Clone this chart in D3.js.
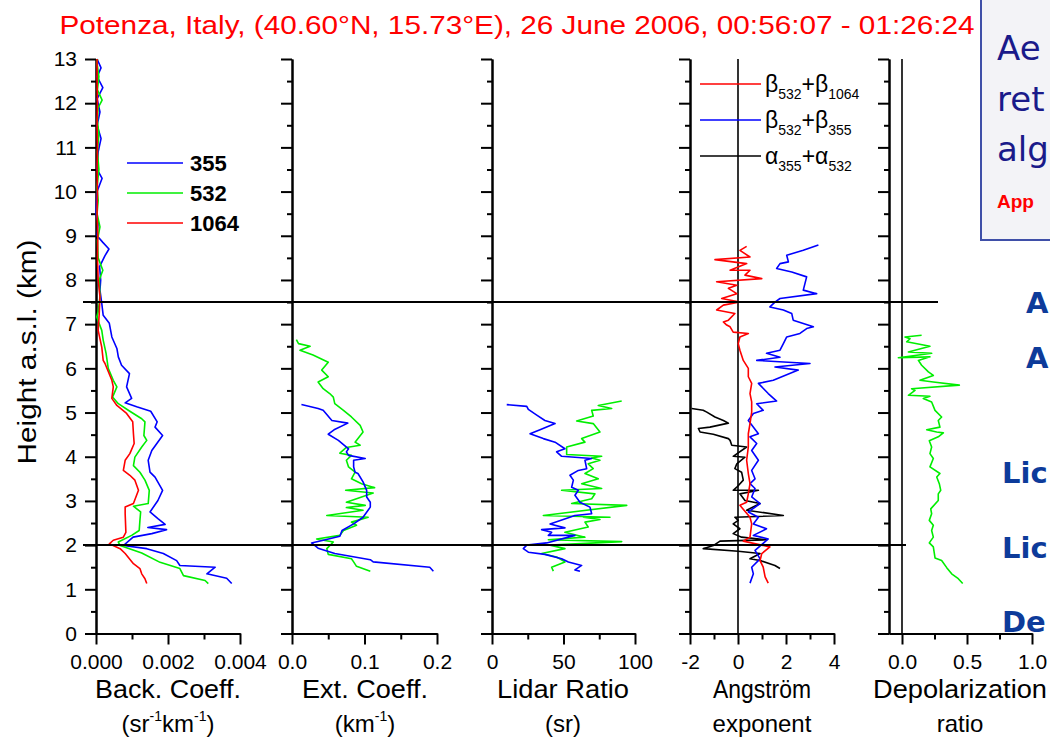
<!DOCTYPE html>
<html><head><meta charset="utf-8">
<script src="https://cdn.jsdelivr.net/npm/d3@7"></script>
<style>body{margin:0;background:#fff}svg{display:block}</style>
</head><body><svg id="c" width="1050" height="740"></svg>
<script>
// ---------- DATA: [altitude km, value] ----------
const back355 = [[1.13,0.00377],[1.25,0.00363],[1.35,0.00308],[1.50,0.00331],[1.54,0.00233],[1.65,0.00224],[1.81,0.00187],[1.92,0.00141],[1.99,0.00076],[2.18,0.00103],[2.26,0.00155],[2.35,0.00196],[2.40,0.00144],[2.47,0.00192],[2.60,0.00172],[2.75,0.00150],[3.01,0.00172],[3.24,0.00185],[3.54,0.00164],[3.65,0.00150],[3.92,0.00145],[4.14,0.00155],[4.48,0.00185],[4.67,0.00164],[4.79,0.00170],[5.03,0.00152],[5.13,0.00113],[5.22,0.00081],[5.32,0.00099],[5.58,0.00085],[5.88,0.00093],[6.07,0.00071],[6.26,0.00062],[6.45,0.00058],[6.71,0.00044],[7.02,0.00037],[7.20,0.00020],[7.47,0.00016],[7.77,0.00011],[8.00,0.00013],[8.30,0.00010],[8.55,0.00025],[8.70,0.00036],[8.85,0.00019],[9.00,0.00003],[9.30,0.00006],[9.50,0.00000],[10.0,0.00003],[10.3,0.00017],[10.5,0.00003],[10.9,0.00006],[11.2,0.00014],[11.5,0.00003],[11.8,0.00011],[12.1,0.00003],[12.35,0.00019],[12.6,0.00003],[12.8,0.00014],[13.0,0.00003]];
const back532 = [[1.13,0.00312],[1.20,0.00303],[1.31,0.00243],[1.47,0.00233],[1.61,0.00178],[1.82,0.00127],[1.99,0.00067],[2.07,0.00062],[2.22,0.00099],[2.33,0.00120],[2.56,0.00122],[2.75,0.00124],[2.88,0.00104],[2.94,0.00145],[3.24,0.00148],[3.47,0.00136],[3.65,0.00122],[3.80,0.00104],[3.99,0.00108],[4.22,0.00127],[4.37,0.00141],[4.48,0.00133],[4.79,0.00136],[4.86,0.00127],[5.03,0.00094],[5.20,0.00062],[5.35,0.00046],[5.58,0.00058],[5.73,0.00048],[6.00,0.00034],[6.34,0.00028],[6.64,0.00020],[6.86,0.00016],[7.16,0.00002],[7.28,0.00006],[7.62,0.00011],[8.0,0.00009],[8.22,0.00019],[8.5,0.00006],[8.9,0.00004],[9.2,0.00011],[9.5,0.00003],[9.8,0.00006],[10.1,0.00003],[10.5,0.00008],[10.9,0.00004],[11.3,0.00008],[11.6,0.00004],[11.9,0.00006],[12.07,0.00017],[12.3,0.00004],[12.6,0.00008],[12.9,0.00003],[13.0,0.00004]];
const back1064 = [[1.13,0.00141],[1.24,0.00136],[1.35,0.00127],[1.47,0.00122],[1.58,0.00104],[1.81,0.00081],[1.92,0.00067],[2.03,0.00037],[2.11,0.00048],[2.18,0.00076],[2.29,0.00083],[2.71,0.00081],[2.86,0.00081],[2.94,0.00104],[3.24,0.00118],[3.47,0.00108],[3.58,0.00094],[3.69,0.00076],[3.92,0.00081],[4.07,0.00094],[4.30,0.00106],[4.52,0.00104],[4.79,0.00102],[4.98,0.00085],[5.16,0.00058],[5.32,0.00044],[5.58,0.00048],[5.73,0.00044],[6.11,0.00025],[6.18,0.00020],[6.48,0.00016],[6.86,0.00006],[7.24,0.00009],[7.62,0.00011],[8.0,0.00006],[8.5,0.00004],[9.0,0.00005],[9.5,0.00003],[10.0,0.00004],[10.5,0.00003],[11.0,0.00004],[11.5,0.00003],[12.0,0.00004],[12.5,0.00003],[13.0,0.00003]];

const ext532 = [[1.41,0.108],[1.52,0.089],[1.62,0.085],[1.69,0.082],[1.79,0.050],[1.92,0.048],[2.07,0.057],[2.14,0.034],[2.22,0.066],[2.33,0.071],[2.45,0.089],[2.52,0.082],[2.63,0.105],[2.67,0.048],[2.79,0.098],[2.85,0.075],[2.90,0.101],[2.97,0.075],[3.18,0.112],[3.24,0.074],[3.30,0.114],[3.39,0.096],[3.50,0.082],[3.65,0.087],[3.77,0.078],[3.92,0.075],[4.03,0.082],[4.08,0.066],[4.21,0.075],[4.26,0.094],[4.33,0.087],[4.56,0.098],[4.71,0.094],[4.90,0.082],[5.05,0.071],[5.20,0.059],[5.35,0.057],[5.43,0.052],[5.54,0.043],[5.69,0.036],[5.81,0.050],[5.96,0.041],[6.14,0.050],[6.30,0.029],[6.41,0.011],[6.50,0.025],[6.56,0.009],[6.65,0.006]];
const ext355 = [[1.41,0.195],[1.50,0.190],[1.62,0.112],[1.67,0.108],[1.81,0.059],[1.93,0.036],[2.05,0.027],[2.12,0.046],[2.20,0.066],[2.33,0.069],[2.48,0.085],[2.63,0.098],[2.86,0.108],[2.97,0.108],[3.09,0.103],[3.24,0.103],[3.43,0.098],[3.62,0.091],[3.65,0.087],[3.77,0.085],[3.92,0.085],[3.96,0.101],[4.03,0.078],[4.11,0.075],[4.18,0.078],[4.37,0.064],[4.51,0.050],[4.61,0.058],[4.76,0.077],[4.82,0.055],[5.05,0.043],[5.09,0.036],[5.18,0.013]];

const lr355 = [[1.41,61.5],[1.44,58],[1.54,62.7],[1.62,53.4],[1.69,48.7],[1.79,37],[1.84,25.4],[1.92,21.9],[2.00,24.3],[2.05,38.2],[2.22,58],[2.22,39.4],[2.29,41.7],[2.35,34.7],[2.39,51],[2.48,40.6],[2.67,58],[2.71,69.7],[2.86,68.5],[2.97,61.5],[3.13,58],[3.24,60.4],[3.31,55.7],[3.47,56.9],[3.58,54.5],[3.69,60.4],[3.73,66.2],[3.92,65],[3.96,69.7],[4.01,48.7],[4.11,45.2],[4.18,51],[4.33,44.1],[4.41,35.9],[4.52,26.6],[4.61,33.6],[4.75,44.1],[4.82,37],[4.94,31.3],[5.07,25.4],[5.14,24.3],[5.18,10.3]];
const lr532 = [[1.41,42.9],[1.50,41.7],[1.62,51],[1.73,45.2],[1.81,34.7],[1.92,51],[2.00,40.6],[2.08,90.7],[2.12,39.4],[2.18,65],[2.29,51],[2.41,67.3],[2.52,65],[2.58,75.5],[2.63,63.9],[2.63,82.5],[2.67,35.9],[2.90,94.2],[2.94,55.7],[3.05,69.7],[3.16,72],[3.24,48.7],[3.28,76.7],[3.39,62.7],[3.50,74.3],[3.62,65],[3.73,70.8],[3.84,67.3],[3.92,75.5],[3.97,69.7],[4.01,76.7],[4.05,52.2],[4.22,52.2],[4.33,65],[4.41,62.7],[4.56,75.5],[4.75,70.8],[4.81,59.2],[4.92,70.8],[5.05,69.7],[5.09,83.7],[5.16,74.3],[5.26,90.7]];

const ae532_1064 = [[1.14,1.26],[1.28,1.13],[1.50,1.05],[1.65,0.92],[1.81,0.99],[1.96,1.33],[2.09,0.22],[2.18,0.50],[2.48,0.57],[2.63,0.50],[2.90,0.08],[2.97,0.36],[3.16,0.43],[3.39,0.50],[3.62,0.43],[3.92,0.36],[4.22,0.43],[4.52,0.43],[4.75,0.50],[5.01,0.57],[5.24,0.57],[5.43,0.50],[5.66,0.57],[5.81,0.43],[6.00,0.43],[6.18,0.22],[6.41,0.08],[6.56,0.01],[6.71,0.08],[6.79,0.43],[6.82,-0.20],[6.94,-0.33],[6.98,-0.47],[7.05,-0.61],[7.09,-0.40],[7.24,-0.13],[7.32,-0.89],[7.43,-0.61],[7.50,0.08],[7.58,-0.68],[7.69,-0.05],[7.81,-0.40],[7.88,-0.05],[7.96,-0.89],[8.03,0.99],[8.11,0.29],[8.22,0.50],[8.22,-0.33],[8.37,0.36],[8.46,-0.96],[8.52,0.50],[8.67,0.08],[8.76,0.36]];
const ae532_355 = [[1.14,0.50],[1.35,0.64],[1.50,0.57],[1.69,0.92],[1.88,0.71],[2.14,1.26],[2.22,0.64],[2.37,1.19],[2.48,0.64],[2.63,0.85],[2.75,0.43],[2.94,0.92],[3.09,0.57],[3.28,0.71],[3.39,0.50],[3.50,0.71],[3.69,0.57],[3.92,0.85],[4.14,0.57],[4.30,0.78],[4.45,0.50],[4.52,0.85],[4.82,0.43],[4.98,0.64],[5.05,1.05],[5.20,0.78],[5.26,1.61],[5.43,1.26],[5.66,0.85],[5.73,1.47],[5.96,2.51],[6.03,1.54],[6.11,3.00],[6.18,0.78],[6.25,1.75],[6.34,1.19],[6.41,1.75],[6.56,1.89],[6.71,2.03],[6.79,2.58],[6.90,2.86],[6.94,3.14],[7.09,2.30],[7.24,2.24],[7.32,1.89],[7.39,1.33],[7.50,1.54],[7.58,1.75],[7.69,3.28],[7.77,2.72],[8.07,2.86],[8.18,2.24],[8.26,1.61],[8.37,1.75],[8.41,2.10],[8.56,2.03],[8.67,2.72],[8.79,3.35]];
const ae355_532 = [[1.47,1.75],[1.54,1.54],[1.65,0.92],[1.69,0.50],[1.81,0.92],[1.86,0.01],[1.92,-1.45],[1.99,-1.03],[2.09,-0.75],[2.12,1.19],[2.18,0.15],[2.26,-0.20],[2.37,0.08],[2.48,-0.20],[2.56,0.01],[2.63,-0.13],[2.67,1.89],[2.79,0.36],[2.94,0.92],[3.01,0.29],[3.16,0.08],[3.24,0.85],[3.24,-0.20],[3.31,-0.05],[3.47,0.22],[3.65,0.15],[3.73,-0.13],[3.84,-0.05],[3.99,0.29],[4.01,-0.20],[4.22,0.36],[4.26,-0.26],[4.37,-0.33],[4.41,-0.40],[4.51,-1.03],[4.56,-1.58],[4.64,-1.65],[4.67,-1.17],[4.76,-0.40],[4.82,-0.61],[4.90,-0.96],[5.01,-1.30],[5.05,-1.45],[5.09,-1.93]];

const depol532 = [[1.13,0.467],[1.24,0.433],[1.35,0.382],[1.49,0.344],[1.65,0.305],[1.71,0.254],[1.96,0.241],[2.05,0.210],[2.18,0.241],[2.33,0.228],[2.45,0.241],[2.56,0.210],[2.71,0.228],[2.82,0.221],[3.01,0.279],[3.16,0.279],[3.24,0.298],[3.39,0.287],[3.54,0.267],[3.62,0.292],[3.77,0.215],[3.96,0.241],[4.07,0.215],[4.22,0.228],[4.36,0.210],[4.45,0.279],[4.54,0.318],[4.56,0.267],[4.61,0.190],[4.67,0.292],[4.82,0.279],[4.90,0.305],[5.05,0.254],[5.24,0.228],[5.32,0.164],[5.37,0.215],[5.39,0.049],[5.50,0.100],[5.54,0.074],[5.62,0.441],[5.69,0.241],[5.73,0.138],[5.84,0.241],[5.92,0.203],[6.07,0.151],[6.18,0.126],[6.26,0.215],[6.24,-0.028],[6.34,0.228],[6.37,0.049],[6.50,0.215],[6.60,0.036],[6.67,0.062],[6.71,0.023],[6.75,0.151]];

const yTicks = [0,1,2,3,4,5,6,7,8,9,10,11,12,13];
const layerLines = [7.5, 2.0];
const legend1 = ["355","532","1064"];
const titleText = "Potenza, Italy, (40.60°N, 15.73°E), 26 June 2006, 00:56:07 - 01:26:24";
const xTitles1 = ["Back. Coeff.","Ext. Coeff.","Lidar Ratio","Angström","Depolarization"];

// ---------- DRAW ----------
const svg = d3.select("#c");
const FONT = "'Liberation Sans', Arial, sans-serif";
const y = d3.scaleLinear().domain([0,13]).range([633.5,59]);
const hy = f => (v => f(v).replace("\u2212","-"));

const panels = [
  {dom:[0,0.004], rng:[96,240], major:[0,0.002,0.004], minor:[0.001,0.003], fmt:hy(d3.format(".3f")),
   series:[[back355,"#0000ff"],[back532,"#00ee00"],[back1064,"#ff0000"]], t1w:146, t1x:168},
  {dom:[0,0.2], rng:[292,437], major:[0,0.1,0.2], minor:[0.05,0.15], fmt:hy(d3.format(".1f")),
   series:[[ext532,"#00ee00"],[ext355,"#0000ff"]], t1w:126, t1x:365},
  {dom:[0,100], rng:[492,635], major:[0,50,100], minor:[25,75], fmt:hy(d3.format("d")),
   series:[[lr532,"#00ee00"],[lr355,"#0000ff"]], t1w:132, t1x:563},
  {dom:[-2,4], rng:[690,834], major:[-2,0,2,4], minor:[-1,1,3], fmt:hy(d3.format("d")), zero:true,
   series:[[ae355_532,"#000000"],[ae532_355,"#0000ff"],[ae532_1064,"#ff0000"]], t1w:98, t1x:762},
  {dom:[-0.1,1.0], rng:[889,1032], major:[0,0.5,1.0], minor:[0.25,0.75], fmt:hy(d3.format(".1f")), zero:true,
   series:[[depol532,"#00ee00"]], t1w:174, t1x:960}
];

panels.forEach((p,i)=>{
  const x = d3.scaleLinear().domain(p.dom).range(p.rng);
  p.x = x;
  const gx = svg.append("g").attr("transform","translate(0,633.5)");
  gx.call(d3.axisBottom(x).tickValues(p.major).tickFormat(p.fmt).tickSize(11).tickSizeOuter(0).tickPadding(10));
  gx.append("g").call(d3.axisBottom(x).tickValues(p.minor).tickFormat("").tickSize(6).tickSizeOuter(0));
  const gy = svg.append("g").attr("transform",`translate(${p.rng[0]},0)`);
  gy.call(d3.axisLeft(y).tickValues(yTicks).tickFormat(i===0?d3.format("d"):"").tickSize(11).tickSizeOuter(0).tickPadding(8));
  gy.append("g").call(d3.axisLeft(y).tickValues(yTicks.slice(0,-1).map(v=>v+0.5)).tickFormat("").tickSize(5).tickSizeOuter(0));
  if(p.zero){
    svg.append("line").attr("x1",x(0)).attr("x2",x(0)).attr("y1",y(13)).attr("y2",y(0))
      .attr("stroke","#000").attr("stroke-width",1.6);
  }
});

svg.selectAll(".domain, .tick line").attr("stroke","#000").attr("stroke-width",2);
svg.selectAll(".tick text").attr("font-family",FONT).attr("font-size",21).attr("fill","#000");

panels.forEach(p=>{
  const line = d3.line().x(d=>p.x(d[1])).y(d=>y(d[0]));
  p.series.forEach(([data,col])=>{
    svg.append("path").datum(data).attr("d",line).attr("fill","none")
      .attr("stroke",col).attr("stroke-width",1.6).attr("stroke-linejoin","round");
  });
});

svg.append("line").attr("x1",83).attr("x2",938).attr("y1",y(layerLines[0])).attr("y2",y(layerLines[0])).attr("stroke","#000").attr("stroke-width",2);
svg.append("line").attr("x1",83).attr("x2",906).attr("y1",y(layerLines[1])).attr("y2",y(layerLines[1])).attr("stroke","#000").attr("stroke-width",2);

// axis titles
panels.forEach((p,i)=>{
  svg.append("text").attr("x",p.t1x).attr("y",698).attr("text-anchor","middle")
    .attr("font-family",FONT).attr("font-size",25).attr("textLength",p.t1w).attr("lengthAdjust","spacingAndGlyphs").text(xTitles1[i]);
});
(function(){
  const t = svg.append("text").attr("x",168).attr("y",732).attr("text-anchor","middle").attr("font-family",FONT).attr("font-size",24);
  t.append("tspan").text("(sr");
  t.append("tspan").attr("font-size",14).attr("dy",-11).text("-1");
  t.append("tspan").attr("dy",11).text("km");
  t.append("tspan").attr("font-size",14).attr("dy",-11).text("-1");
  t.append("tspan").attr("dy",11).text(")");
  const t2 = svg.append("text").attr("x",365).attr("y",732).attr("text-anchor","middle").attr("font-family",FONT).attr("font-size",24);
  t2.append("tspan").text("(km");
  t2.append("tspan").attr("font-size",14).attr("dy",-11).text("-1");
  t2.append("tspan").attr("dy",11).text(")");
})();
[["(sr)",563],["exponent",762],["ratio",960]].forEach(([s,x])=>{
  svg.append("text").attr("x",x).attr("y",732).attr("text-anchor","middle").attr("font-family",FONT).attr("font-size",24).text(s);
});

svg.append("text").attr("transform","translate(36,352) rotate(-90)").attr("text-anchor","middle")
  .attr("font-family",FONT).attr("font-size",25).attr("textLength",225).attr("lengthAdjust","spacingAndGlyphs").text("Height a.s.l. (km)");

svg.append("text").attr("x",517).attr("y",34).attr("text-anchor","middle").attr("font-family",FONT)
  .attr("font-size",25).attr("fill","#ff0000").attr("textLength",915).attr("lengthAdjust","spacingAndGlyphs").text(titleText);

const legCols = ["#0000ff","#00ee00","#ff0000"];
legend1.forEach((s,i)=>{
  const yy = 163 + i*30;
  svg.append("line").attr("x1",127).attr("x2",183).attr("y1",yy).attr("y2",yy).attr("stroke",legCols[i]).attr("stroke-width",1.6);
  svg.append("text").attr("x",190).attr("y",yy+8).attr("font-family",FONT).attr("font-weight","bold").attr("font-size",22).text(s);
});

const leg4 = [["#ff0000","β","532","+β","1064"],["#0000ff","β","532","+β","355"],["#000000","α","355","+α","532"]];
leg4.forEach((r,i)=>{
  const yy = 84 + i*36;
  svg.append("line").attr("x1",700).attr("x2",761).attr("y1",yy).attr("y2",yy).attr("stroke",r[0]).attr("stroke-width",1.6);
  const t = svg.append("text").attr("x",765).attr("y",yy+8).attr("font-family",FONT).attr("font-size",23);
  t.append("tspan").text(r[1]);
  t.append("tspan").attr("font-size",14).attr("dy",7).text(r[2]);
  t.append("tspan").attr("dy",-7).text(r[3]);
  t.append("tspan").attr("font-size",14).attr("dy",7).text(r[4]);
});

// right side box (cropped slide content)
svg.append("rect").attr("x",981).attr("y",-4).attr("width",90).attr("height",244)
  .attr("fill","#f3f3f7").attr("stroke","#3f4fa8").attr("stroke-width",2);
[["Ae",60],["ret",111],["alg",161]].forEach(([s,yy])=>{
  svg.append("text").attr("x",997).attr("y",yy).attr("font-family","'DejaVu Sans', sans-serif").attr("font-size",34).attr("fill","#1a1a8a").text(s);
});
svg.append("text").attr("x",997).attr("y",208).attr("font-family",FONT).attr("font-weight","bold").attr("font-size",19).attr("fill","#ff0000").text("App");
[["A",1026,313],["A",1026,368],["Lic",1002,483],["Lic",1002,558],["De",1002,632]].forEach(([s,x,yy])=>{
  svg.append("text").attr("x",x).attr("y",yy).attr("font-family","'DejaVu Sans', sans-serif").attr("font-weight","bold")
    .attr("font-size",29).attr("fill","#0d3b9a").text(s);
});
</script></body></html>
